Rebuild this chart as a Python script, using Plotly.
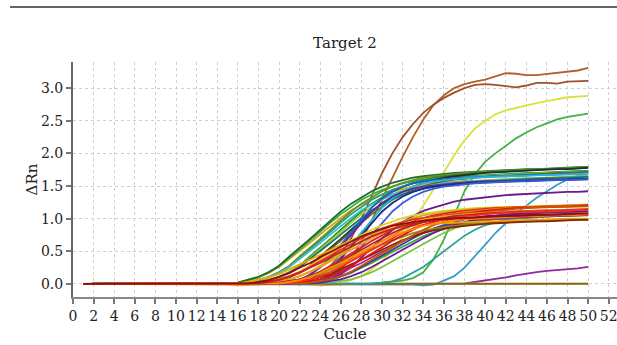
import plotly.graph_objects as go

cycles = list(range(1, 51))
x_ticks = list(range(0, 53, 2))
y_ticks = [0.0, 0.5, 1.0, 1.5, 2.0, 2.5, 3.0]


def base(vals):
    # flat (baseline-subtracted) cycles before the curve leaves zero
    return [0.0] * (50 - len(vals)) + vals


# ---- special curves ----
brown_a = base([.02, .06, .15, .28, .45, .70, 1.00, 1.35, 1.70, 2.00, 2.25, 2.45, 2.62, 2.75, 2.85, 2.93, 3.00,
                3.05, 3.06, 3.05, 3.03, 3.01, 3.04, 3.08, 3.08, 3.07, 3.10, 3.11, 3.11])
brown_b = base([.05, .12, .22, .40, .65, .98, 1.30, 1.62, 1.95, 2.25, 2.52, 2.74, 2.89, 3.00, 3.06, 3.10, 3.13,
                3.18, 3.23, 3.22, 3.20, 3.20, 3.22, 3.24, 3.25, 3.27, 3.31])
yellow_hi = base([.02, .06, .12, .22, .35, .52, .72, .95, 1.20, 1.45, 1.72, 1.97, 2.20, 2.38, 2.50, 2.60, 2.66,
                  2.70, 2.74, 2.77, 2.80, 2.83, 2.86, 2.87, 2.88])
green_hi = base([.02, .03, .05, .09, .18, .38, .68, 1.05, 1.42, 1.68, 1.87, 2.00, 2.12, 2.23, 2.32, 2.40, 2.46,
                 2.52, 2.56, 2.58, 2.61])
blue_late = base([-.01, -.02, -.01, .05, .12, .25, .42, .60, .78, .93, 1.08, 1.20, 1.32, 1.42, 1.52, 1.60, 1.66, 1.71])
purple_late = base([.01, .03, .05, .08, .10, .13, .16, .18, .20, .21, .22, .24, .26])
purple_mid = base([.02, .04, .08, .15, .26, .40, .55, .70, .83, .95, 1.04, 1.12, 1.17, 1.22, 1.26, 1.29, 1.31,
                   1.33, 1.35, 1.36, 1.37, 1.38, 1.39, 1.40, 1.40, 1.41, 1.41, 1.42])
flat_orange = [0.0, 0.0, 0.0, 0.0, 0.0, 0.0, 0.0, 0.0, 0.0, 0.0, 0.0, 0.0, 0.0, 0.0, -0.01, -0.02, -0.01, 0.0,
               0.0, 0.0, 0.0, 0.0, -0.01, -0.02, -0.01, 0.0, 0.0, 0.0, 0.0, 0.0, 0.0, 0.0, 0.0, 0.0, 0.0, 0.0,
               0.0, 0.0, 0.0, 0.0, 0.0, 0.0, 0.0, 0.0, 0.0, 0.0, 0.0, 0.01, 0.01, 0.01]
flat_olive = [0.0, 0.01, 0.01, 0.0, 0.0, 0.01, 0.01, 0.0, 0.0, 0.0, 0.0, 0.0, 0.0, 0.0, 0.0, 0.0, 0.0, 0.0,
              0.0, 0.0, 0.0, 0.0, 0.0, 0.0, 0.0, 0.0, 0.0, 0.0, 0.0, 0.0, 0.0, 0.0, 0.0, 0.0, 0.0, 0.0, 0.0,
              0.0, 0.0, 0.0, 0.0, 0.01, 0.0, 0.0, 0.0, 0.0, 0.0, 0.0, 0.0, 0.0]

# ---- upper plateau group (~1.6-1.8) ----
u1 = base([.01, .02, .06, .10, .18, .27, .40, .53, .66, .80, .94, 1.07, 1.18, 1.29, 1.37, 1.44, 1.49, 1.54, 1.57, 1.60,
           1.61, 1.63, 1.64, 1.65, 1.66, 1.67, 1.68, 1.69, 1.69, 1.70, 1.70, 1.71, 1.72, 1.72, 1.73, 1.73])
u3 = base([.01, .02, .06, .10, .18, .27, .40, .53, .66, .80, .94, 1.07, 1.18, 1.29, 1.37, 1.44, 1.49, 1.54, 1.57, 1.60,
           1.61, 1.63, 1.64, 1.65, 1.66, 1.67, 1.68, 1.69, 1.69, 1.70, 1.70, 1.71, 1.72, 1.72, 1.73])
u11 = base([.01, .02, .06, .10, .18, .27, .40, .53, .66, .80, .94, 1.07, 1.18, 1.29, 1.37, 1.44, 1.49, 1.54, 1.57, 1.60,
            1.61, 1.63, 1.64, 1.65, 1.66, 1.67, 1.68, 1.69, 1.69, 1.70, 1.70, 1.71, 1.72, 1.72])
u15 = base([.01, .02, .06, .10, .18, .27, .40, .53, .66, .80, .94, 1.07, 1.18, 1.29, 1.37, 1.44, 1.49, 1.54, 1.57, 1.60,
            1.61, 1.63, 1.64, 1.65, 1.66, 1.67, 1.68, 1.69, 1.69, 1.70, 1.70, 1.71, 1.72])
u2 = base([.01, .02, .06, .11, .18, .28, .42, .55, .69, .83, .97, 1.11, 1.23, 1.33, 1.42, 1.49, 1.55, 1.59, 1.63, 1.65,
           1.67, 1.69, 1.70, 1.71, 1.72, 1.73, 1.74, 1.75, 1.75, 1.76, 1.76, 1.77, 1.78, 1.78, 1.79, 1.79])
u14 = base([.01, .02, .06, .11, .18, .28, .42, .55, .69, .83, .97, 1.11, 1.23, 1.33, 1.42, 1.49, 1.55, 1.59, 1.63, 1.65,
            1.67, 1.69, 1.70, 1.71, 1.72, 1.73, 1.74, 1.75, 1.75, 1.76, 1.76, 1.77, 1.78, 1.78, 1.79])
u5 = base([.01, .02, .06, .11, .18, .28, .42, .55, .69, .83, .97, 1.11, 1.23, 1.33, 1.42, 1.49, 1.55, 1.59, 1.63, 1.65,
           1.67, 1.69, 1.70, 1.71, 1.72, 1.73, 1.74, 1.75, 1.75, 1.76, 1.76, 1.77, 1.78, 1.78])
u12 = base([.01, .02, .06, .11, .18, .28, .42, .55, .69, .83, .97, 1.11, 1.23, 1.33, 1.42, 1.49, 1.55, 1.59, 1.63, 1.65,
            1.67, 1.69, 1.70, 1.71, 1.72, 1.73, 1.74, 1.75, 1.75, 1.76, 1.76, 1.77, 1.78])
u16 = base([.01, .02, .05, .10, .17, .26, .38, .50, .63, .76, .89, 1.01, 1.13, 1.22, 1.30, 1.37, 1.42, 1.46, 1.49, 1.52,
            1.54, 1.55, 1.57, 1.58, 1.58, 1.59, 1.60, 1.61, 1.61, 1.62, 1.62, 1.63, 1.64, 1.64, 1.65, 1.65])
u4 = base([.01, .02, .05, .10, .17, .26, .38, .50, .63, .76, .89, 1.01, 1.13, 1.22, 1.30, 1.37, 1.42, 1.46, 1.49, 1.52,
           1.54, 1.55, 1.57, 1.58, 1.58, 1.59, 1.60, 1.61, 1.61, 1.62, 1.62, 1.63, 1.64, 1.64, 1.65])
u6 = base([.01, .02, .05, .10, .17, .26, .38, .50, .63, .76, .89, 1.01, 1.13, 1.22, 1.30, 1.37, 1.42, 1.46, 1.49, 1.52,
           1.54, 1.55, 1.57, 1.58, 1.58, 1.59, 1.60, 1.61, 1.61, 1.62, 1.62, 1.63, 1.64, 1.64])
u7 = base([.01, .02, .06, .14, .26, .41, .60, .79, .99, 1.17, 1.31, 1.41, 1.49, 1.54, 1.57, 1.59, 1.61, 1.62, 1.63, 1.64,
           1.64, 1.65, 1.65, 1.66, 1.66, 1.67, 1.67, 1.68, 1.68, 1.69, 1.69])
u10 = base([.01, .02, .06, .14, .26, .41, .60, .79, .99, 1.17, 1.31, 1.41, 1.49, 1.54, 1.57, 1.59, 1.61, 1.62, 1.63, 1.64,
            1.64, 1.65, 1.65, 1.66, 1.66, 1.67, 1.67, 1.68, 1.68, 1.69])
u9 = base([.01, .02, .06, .14, .25, .39, .57, .75, .94, 1.11, 1.24, 1.34, 1.41, 1.46, 1.49, 1.51, 1.53, 1.54, 1.55, 1.56,
           1.56, 1.57, 1.57, 1.58, 1.58, 1.59, 1.59, 1.60, 1.60, 1.61, 1.61])
u8 = base([.01, .02, .06, .14, .25, .39, .57, .75, .94, 1.11, 1.24, 1.34, 1.41, 1.46, 1.49, 1.51, 1.53, 1.54, 1.55, 1.56,
           1.56, 1.57, 1.57, 1.58, 1.58, 1.59, 1.59, 1.60, 1.60, 1.61])
u13 = base([.01, .02, .06, .14, .25, .39, .57, .75, .94, 1.11, 1.24, 1.34, 1.41, 1.46, 1.49, 1.51, 1.53, 1.54, 1.55, 1.56,
            1.56, 1.57, 1.57, 1.58, 1.58, 1.59, 1.59, 1.60, 1.60])

# ---- lower plateau group (~0.95-1.25) ----
l1 = base([.00, .01, .03, .06, .11, .17, .25, .32, .41, .49, .58, .66, .73, .79, .84, .89, .92, .95, .97, .99,
           1.00, 1.01, 1.02, 1.03, 1.03, 1.04, 1.04, 1.05, 1.05, 1.06, 1.06, 1.07, 1.07, 1.08, 1.08])
l3 = base([.00, .01, .03, .06, .11, .17, .25, .32, .41, .49, .58, .66, .73, .79, .84, .89, .92, .95, .97, .99,
           1.00, 1.01, 1.02, 1.03, 1.03, 1.04, 1.04, 1.05, 1.05, 1.06, 1.06, 1.07, 1.07, 1.08])
l21 = base([.00, .01, .03, .06, .11, .17, .25, .32, .41, .49, .58, .66, .73, .79, .84, .89, .92, .95, .97, .99,
            1.00, 1.01, 1.02, 1.03, 1.03, 1.04, 1.04, 1.05, 1.05, 1.06, 1.06, 1.07])
l9 = base([.00, .01, .03, .06, .11, .17, .25, .32, .41, .49, .58, .66, .73, .79, .84, .89, .92, .95, .97, .99,
           1.00, 1.01, 1.02, 1.03, 1.03, 1.04, 1.04, 1.05, 1.05, 1.06])
l12 = base([.00, .01, .03, .06, .11, .17, .25, .32, .41, .49, .58, .66, .73, .79, .84, .89, .92, .95, .97, .99,
            1.00, 1.01, 1.02, 1.03, 1.03, 1.04, 1.04, 1.05, 1.05])
l2 = base([.01, .02, .04, .07, .12, .18, .26, .35, .44, .52, .62, .70, .78, .85, .90, .95, .99, 1.01, 1.04, 1.05,
           1.07, 1.08, 1.09, 1.10, 1.10, 1.11, 1.11, 1.12, 1.12, 1.13, 1.13, 1.14, 1.14, 1.15])
l5 = base([.01, .02, .04, .07, .12, .18, .26, .35, .44, .52, .62, .70, .78, .85, .90, .95, .99, 1.01, 1.04, 1.05,
           1.07, 1.08, 1.09, 1.10, 1.10, 1.11, 1.11, 1.12, 1.12, 1.13, 1.13, 1.14, 1.14])
l17 = base([.01, .02, .04, .07, .12, .18, .26, .35, .44, .52, .62, .70, .78, .85, .90, .95, .99, 1.01, 1.04, 1.05,
            1.07, 1.08, 1.09, 1.10, 1.10, 1.11, 1.11, 1.12, 1.12, 1.13, 1.13, 1.14])
l20 = base([.01, .02, .04, .07, .12, .18, .26, .35, .44, .52, .62, .70, .78, .85, .90, .95, .99, 1.01, 1.04, 1.05,
            1.07, 1.08, 1.09, 1.10, 1.10, 1.11, 1.11, 1.12, 1.12, 1.13, 1.13])
l10 = base([.01, .02, .04, .07, .12, .18, .26, .35, .44, .52, .62, .70, .78, .85, .90, .95, .99, 1.01, 1.04, 1.05,
            1.07, 1.08, 1.09, 1.10, 1.10, 1.11, 1.11, 1.12, 1.12])
l18 = base([.01, .02, .04, .07, .12, .18, .26, .35, .44, .52, .62, .70, .78, .85, .90, .95, .99, 1.01, 1.04, 1.05,
            1.07, 1.08, 1.09, 1.10, 1.10, 1.11, 1.11, 1.12])
l14 = base([.01, .02, .04, .07, .12, .18, .26, .35, .44, .52, .62, .70, .78, .85, .90, .95, .99, 1.01, 1.04, 1.05,
            1.07, 1.08, 1.09, 1.10, 1.10, 1.11, 1.11])
l22 = base([.01, .02, .04, .07, .12, .19, .28, .37, .46, .56, .66, .75, .83, .90, .96, 1.01, 1.05, 1.08, 1.10, 1.12,
            1.14, 1.15, 1.16, 1.17, 1.17, 1.18, 1.18, 1.19, 1.19, 1.20, 1.20, 1.21, 1.21, 1.22])
l4 = base([.01, .02, .04, .07, .12, .19, .28, .37, .46, .56, .66, .75, .83, .90, .96, 1.01, 1.05, 1.08, 1.10, 1.12,
           1.14, 1.15, 1.16, 1.17, 1.17, 1.18, 1.18, 1.19, 1.19, 1.20, 1.20, 1.21, 1.21])
l6 = base([.01, .02, .04, .07, .12, .19, .28, .37, .46, .56, .66, .75, .83, .90, .96, 1.01, 1.05, 1.08, 1.10, 1.12,
           1.14, 1.15, 1.16, 1.17, 1.17, 1.18, 1.18, 1.19, 1.19, 1.20, 1.20, 1.21])
l8 = base([.01, .02, .04, .07, .12, .19, .28, .37, .46, .56, .66, .75, .83, .90, .96, 1.01, 1.05, 1.08, 1.10, 1.12,
           1.14, 1.15, 1.16, 1.17, 1.17, 1.18, 1.18, 1.19, 1.19, 1.20, 1.20])
l11 = base([.01, .02, .04, .07, .12, .19, .28, .37, .46, .56, .66, .75, .83, .90, .96, 1.01, 1.05, 1.08, 1.10, 1.12,
            1.14, 1.15, 1.16, 1.17, 1.17, 1.18, 1.18, 1.19, 1.19, 1.20])
l13 = base([.01, .02, .04, .07, .12, .19, .28, .37, .46, .56, .66, .75, .83, .90, .96, 1.01, 1.05, 1.08, 1.10, 1.12,
            1.14, 1.15, 1.16, 1.17, 1.17, 1.18, 1.18, 1.19, 1.19])
l16 = base([.00, .01, .03, .06, .10, .15, .23, .30, .37, .45, .53, .60, .67, .73, .78, .82, .85, .87, .89, .91,
            .92, .93, .94, .95, .95, .96, .96, .97, .97, .98, .98, .99, .99, 1.00, 1.00, 1.00])
l7 = base([.00, .01, .03, .06, .10, .15, .23, .30, .37, .45, .53, .60, .67, .73, .78, .82, .85, .87, .89, .91,
           .92, .93, .94, .95, .95, .96, .96, .97, .97, .98, .98, .99])
l19 = base([.00, .01, .03, .06, .10, .15, .23, .30, .37, .45, .53, .60, .67, .73, .78, .82, .85, .87, .89, .91,
            .92, .93, .94, .95, .95, .96, .96, .97, .97, .98, .98])
l15 = base([.01, .02, .04, .09, .17, .26, .38, .50, .63, .74, .83, .90, .94, .98, 1.00, 1.01, 1.03, 1.03, 1.04,
            1.05, 1.05, 1.06])

# drawing order (bottom to top) and colours
series = [purple_late, blue_late, green_hi, yellow_hi, purple_mid, brown_b, brown_a, flat_orange, flat_olive,
          u16, u1, u3, u2, u14, u5, u12, u11, u15, u4, u6, u7, u10, u9, u8, u13,
          l14, l15, l12, l9, l10, l18, l16, l7, l19, l22, l4, l6, l8, l11, l13, l2, l5, l17, l20, l21, l3, l1]
colors = ["#8e2a9c", "#3a9ad0", "#45b045", "#d8e23a", "#6a1a8a", "#b0602a", "#a0502a", "#e8a030", "#7a6a20",
          "#d4a017", "#3cb043", "#17a589", "#1e6e2a", "#6b8e23", "#2e8b2e", "#2b2b2b", "#9acd32", "#556b2f",
          "#35c0c8", "#127a6a", "#1f5fd6", "#29b6d6", "#5b2a9e", "#1c2a8c", "#3b5bdb",
          "#7cc242", "#2aa198", "#44a035", "#b0208c", "#2a3fb0", "#6a1b9a", "#f4a300", "#8b8b1e", "#8b2500",
          "#e3d21a", "#c8b41e", "#e02020", "#f07a10", "#d01818", "#cc5500", "#e53020", "#f09a20", "#a52a2a",
          "#ff2a1a", "#ff8c00", "#c81e1e", "#8b1010"]

fig = go.Figure()
for vals, col in zip(series, colors):
    fig.add_trace(go.Scatter(x=cycles, y=vals, mode="lines", line=dict(color=col, width=1.8),
                             hoverinfo="skip", showlegend=False))

serif = "DejaVu Serif"
fig.update_layout(
    width=617, height=345,
    margin=dict(l=73, r=0, t=62, b=48),
    paper_bgcolor="white", plot_bgcolor="white",
    showlegend=False,
    title=dict(text="Target 2", x=0.5, xanchor="center", xref="paper", y=1 - 43 / 345, yanchor="middle",
               font=dict(family=serif, size=15, color="#222")),
    xaxis=dict(range=[0, 52.8], tickmode="array", tickvals=x_ticks, ticktext=[str(v) for v in x_ticks],
               ticks="outside", ticklen=5, tickcolor="#777", tickwidth=1.5, ticklabeloverflow="allow",
               showline=True, linecolor="#888", linewidth=2,
               showgrid=True, gridcolor="#cfcfcf", griddash="dot", gridwidth=1, zeroline=False,
               tickfont=dict(family=serif, size=14, color="#222"), automargin=False,
               title=dict(text="Cucle", font=dict(family=serif, size=15, color="#222"), standoff=6)),
    yaxis=dict(range=[-0.2, 3.4], tickmode="array", tickvals=y_ticks, ticktext=["%.1f" % v for v in y_ticks],
               ticks="outside", ticklen=5, tickcolor="#777", tickwidth=1.5,
               showline=True, linecolor="#666", linewidth=2,
               showgrid=True, gridcolor="#cfcfcf", griddash="dot", gridwidth=1, zeroline=False,
               tickfont=dict(family=serif, size=14, color="#222"), automargin=False,
               title=dict(text="ΔRn", font=dict(family=serif, size=15, color="#222"), standoff=0)),
    shapes=[dict(type="line", xref="paper", yref="paper", x0=(10 - 73) / 544, x1=1.0,
                 y0=(297 - 7) / 235, y1=(297 - 7) / 235, line=dict(color="#333", width=1.5))],
)

fig.write_html("out.html", config={"displayModeBar": False},
               post_script="document.body.style.margin='0';document.body.style.padding='0';")
